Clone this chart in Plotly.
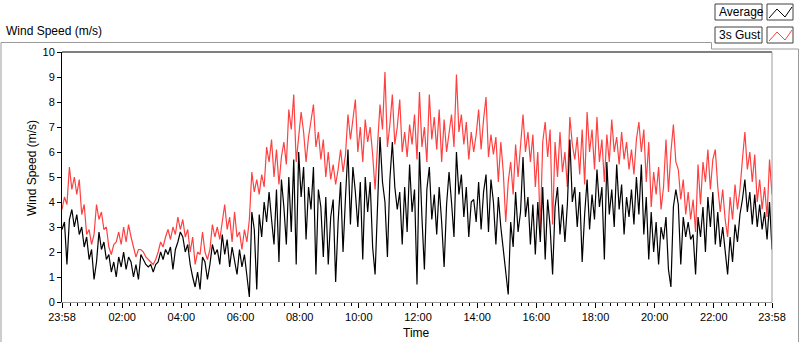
import plotly.graph_objects as go
from datetime import datetime, timedelta

# ---- data (5-minute samples, minutes after 23:58) ----
minutes = list(range(0, 1441, 5))

gust = [
    3.7, 4.2, 3.9, 5.4, 4.5, 5.0, 4.3, 4.9, 3.5, 3.9,
    2.7, 2.9, 2.3, 2.7, 3.9, 3.3, 3.6, 2.9, 3.0, 2.2,
    1.9, 2.3, 2.4, 2.8, 2.3, 3.0, 2.4, 3.1, 2.6, 2.2,
    1.8, 2.1, 2.1, 2.0, 1.8, 1.7, 1.6, 1.5, 1.7, 2.0,
    2.4, 2.2,
    2.6, 2.9, 2.5, 3.0, 2.7, 3.4, 2.9, 3.3, 2.6, 2.9,
    2.0, 2.6, 1.5, 2.0, 1.9, 2.8, 2.0, 1.7, 2.1, 3.1,
    2.6, 3.0, 2.5, 3.3, 3.9, 2.9, 3.4, 2.4, 3.6, 2.6,
    2.8, 2.1, 2.9, 2.4, 3.3, 5.2, 4.4, 4.9, 4.3, 5.1,
    4.6, 6.2,
    5.6, 6.5, 5.0, 6.1, 4.7, 5.8, 6.4, 5.5, 7.7, 6.9,
    8.3, 5.6, 6.5, 7.6, 6.8, 5.6, 6.6, 7.3, 7.9, 6.2,
    6.8, 5.7, 6.5, 5.0, 6.0, 4.9, 5.5, 4.7, 5.3, 6.1,
    5.2, 5.9, 7.5, 6.5, 7.2, 8.1, 6.0, 7.0, 5.6, 7.3,
    6.4,
    7.0, 5.9, 4.5, 6.3, 7.9, 6.9, 9.2, 6.2, 7.1, 8.3,
    6.3, 7.0, 8.1, 6.0, 6.8, 5.8, 7.1, 6.3, 7.5, 5.7,
    8.4, 6.2, 7.0, 5.6, 8.3, 6.5, 7.4, 6.1, 7.7, 5.6,
    7.3, 6.0, 6.7, 7.5, 6.2, 9.1, 6.8, 7.5, 6.3, 7.2,
    5.7, 6.8,
    6.0, 6.7, 7.7, 6.1, 7.3, 8.2, 5.8, 6.7, 5.9, 6.6,
    4.8, 6.4, 5.2, 3.2, 4.8, 5.6, 4.3, 6.3, 5.0, 6.1,
    7.5, 6.0, 6.8, 5.6, 6.7, 4.6, 6.0, 2.9, 6.4, 7.2,
    5.8, 6.9, 3.1, 6.4, 5.0, 6.8, 5.2, 6.0, 4.6, 7.4,
    6.3,
    5.7, 6.6, 5.1, 6.9, 4.7, 7.6, 6.0, 6.9, 5.3, 7.4,
    5.6, 6.5, 4.8, 6.7, 5.6, 7.3, 6.0, 6.6, 5.5, 6.8,
    5.7, 6.4, 5.3, 6.1, 5.1, 6.5, 7.2, 6.0, 6.9, 4.8,
    6.4, 3.8, 5.2, 4.3, 5.4, 3.7, 4.6, 6.5, 4.4, 6.0,
    7.1, 5.6,
    5.3, 4.1, 4.9, 3.5, 4.4, 3.3, 4.1, 2.8, 5.5, 3.9,
    5.6, 4.8, 6.1, 4.5, 5.7, 6.1, 4.6, 3.6, 4.5, 3.3,
    2.6, 4.2, 3.3, 4.7, 3.7, 4.5, 5.7, 6.8, 5.3, 6.0,
    4.8, 5.9, 4.0, 4.9, 3.7, 4.6, 3.4, 5.7, 4.3,
]

average = [
    2.9, 3.2, 1.5, 3.3, 3.7, 3.0, 3.5, 2.7, 3.0, 2.2,
    2.6, 1.7, 2.1, 0.9, 1.6, 2.8, 2.1, 2.4, 1.7, 1.9,
    1.2, 1.6, 1.0, 1.8, 1.4, 2.0, 1.3, 1.8, 1.6, 1.0,
    1.5, 0.9, 1.9, 1.7, 1.5, 1.4, 1.5, 1.2, 1.5, 1.6,
    2.0, 1.7,
    2.1, 1.9, 2.2, 1.3, 2.1, 2.4, 2.8, 2.6, 2.0, 2.3,
    1.5, 1.0, 0.6, 1.2, 0.5, 1.8, 1.6, 0.9, 1.5, 2.3,
    1.9, 2.1, 1.5, 2.7, 1.9, 2.5, 1.4, 2.2, 1.7, 1.1,
    2.1, 1.4, 1.9, 0.9, 0.2, 3.6, 2.9, 0.5, 3.5, 2.6,
    4.0, 3.2,
    4.4, 3.3, 2.3, 4.5, 1.6, 4.9, 3.8, 2.3, 5.0, 2.8,
    5.7, 1.5, 6.0, 4.2, 5.4, 2.5, 4.6, 3.7, 5.4, 1.1,
    4.5, 3.8, 1.8, 4.2, 1.5, 3.4, 4.1, 0.8, 3.2, 4.8,
    2.0, 4.2, 6.1, 3.1, 5.4, 4.4, 3.0, 4.8, 1.7, 5.0,
    3.6,
    4.8, 2.2, 1.1, 4.3, 6.6, 4.8, 4.0, 1.8, 4.9, 6.4,
    4.6, 3.7, 4.4, 2.3, 4.6, 2.8, 5.5, 3.6, 4.5, 0.7,
    6.0, 3.4, 1.3, 4.5, 5.4, 3.3, 4.3, 2.7, 4.6, 3.2,
    1.4, 3.9, 5.2, 4.0, 2.6, 6.0, 4.3, 5.1, 3.4, 4.6,
    2.6, 4.0,
    4.1, 3.2, 4.8, 2.9, 4.4, 5.1, 2.8, 4.9, 4.0, 2.3,
    4.2, 3.0, 2.1, 1.1, 0.3, 3.2, 2.2, 4.4, 2.8, 3.6,
    5.8, 3.4, 4.2, 2.3, 3.9, 1.9, 4.0, 2.4, 4.6, 1.7,
    4.1, 3.0, 1.1, 3.8, 4.6, 2.7, 3.9, 2.4, 3.9, 6.5,
    4.0,
    4.6, 3.0, 4.4, 1.6, 3.5, 4.9, 2.9, 4.3, 3.3, 5.3,
    3.8, 4.6, 1.7, 5.6, 3.5, 4.5, 3.0, 5.5, 3.7, 4.7,
    2.7, 4.2, 3.4, 4.5, 3.1, 5.0, 3.5, 5.5, 2.7, 4.2,
    1.7, 3.6, 2.0, 3.2, 1.5, 3.0, 2.5, 3.4, 1.3, 0.6,
    3.8, 4.5,
    3.9, 1.5, 3.4, 2.6, 3.2, 2.5, 2.7, 1.1, 3.4, 2.6,
    3.8, 2.0, 4.2, 3.0, 4.4, 2.3, 3.6, 2.2, 3.0, 2.0,
    1.1, 2.6, 1.6, 3.1, 2.4, 3.5, 4.1, 4.9, 3.6, 4.4,
    3.1, 4.3, 3.0, 3.9, 2.9, 3.6, 2.5, 4.0, 2.1,
]

tick_labels = ["23:58", "02:00", "04:00", "06:00", "08:00", "10:00", "12:00",
               "14:00", "16:00", "18:00", "20:00", "22:00", "23:58"]
tick_minutes = [0, 122, 242, 362, 482, 602, 722, 842, 962, 1082, 1202, 1322, 1440]

assert len(gust) == len(minutes) and len(average) == len(minutes)

start = datetime(2023, 1, 1, 23, 58)
times = [start + timedelta(minutes=m) for m in minutes]
tick_vals = [start + timedelta(minutes=m) for m in tick_minutes]

# ---- layout geometry (pixels) ----
W, H = 800, 342
L, R, T, B = 62, 772, 52, 302
FONT = "Liberation Sans"


def px(x):
    return (x - L) / (R - L)


def py(y):
    return (B - y) / (B - T)


fig = go.Figure()
fig.add_trace(go.Scatter(x=times, y=gust, mode="lines", name="3s Gust",
                         line=dict(color="#ff4040", width=1.2)))
fig.add_trace(go.Scatter(x=times, y=average, mode="lines", name="Average",
                         line=dict(color="#000000", width=1.2)))

shapes = []
# outer grey panel frame with legend notch
shapes.append(dict(type="path", xref="paper", yref="paper",
                   path=f"M {px(1)},{py(342)} L {px(1)},{py(42.5)} L {px(711.5)},{py(42.5)} "
                        f"L {px(711.5)},{py(49)} L {px(798.5)},{py(49)} L {px(798.5)},{py(342)}",
                   line=dict(color="#9a9a9a", width=1)))
# plot frame: top black, right grey
shapes.append(dict(type="line", xref="paper", yref="paper", x0=0, x1=1, y0=1, y1=1,
                   line=dict(color="#000000", width=1)))
shapes.append(dict(type="line", xref="paper", yref="paper", x0=1, x1=1, y0=0, y1=1,
                   line=dict(color="#9a9a9a", width=1)))
# legend boxes
for (y0, y1, col) in [(4, 20, "#000000"), (27, 43, "#ff4040")]:
    shapes.append(dict(type="rect", xref="paper", yref="paper",
                       x0=px(715), x1=px(762), y0=py(y1), y1=py(y0),
                       line=dict(color="#404040", width=1), fillcolor="white"))
    shapes.append(dict(type="rect", xref="paper", yref="paper",
                       x0=px(767), x1=px(793), y0=py(y1), y1=py(y0),
                       line=dict(color="#404040", width=1), fillcolor="white"))
    shapes.append(dict(type="path", xref="paper", yref="paper",
                       path=f"M {px(769)},{py(y0 + 14)} L {px(777)},{py(y0 + 5)} "
                            f"L {px(785)},{py(y0 + 13)} L {px(792)},{py(y0 + 3)}",
                       line=dict(color=col, width=1)))

annotations = [
    dict(text="Wind Speed (m/s)", x=px(4), y=py(31), xref="paper", yref="paper",
         xanchor="left", yanchor="middle", showarrow=False,
         font=dict(family=FONT, size=12, color="#000")),
    dict(text="Wind Speed (m/s)", x=px(32), y=py(168), xref="paper", yref="paper",
         xanchor="center", yanchor="middle", textangle=-90, showarrow=False,
         font=dict(family=FONT, size=12, color="#000")),
    dict(text="Time", x=px(416), y=py(333), xref="paper", yref="paper",
         xanchor="center", yanchor="middle", showarrow=False,
         font=dict(family=FONT, size=12, color="#000")),
    dict(text="Average", x=px(717), y=py(12), xref="paper", yref="paper",
         xanchor="left", yanchor="middle", showarrow=False,
         font=dict(family=FONT, size=12, color="#000")),
    dict(text="3s Gust", x=px(717), y=py(35), xref="paper", yref="paper",
         xanchor="left", yanchor="middle", showarrow=False,
         font=dict(family=FONT, size=12, color="#000")),
]

fig.update_layout(
    width=W, height=H, autosize=False,
    margin=dict(l=L, r=W - R, t=T, b=H - B, pad=0),
    paper_bgcolor="white", plot_bgcolor="white",
    showlegend=False,
    font=dict(family=FONT, size=11, color="#000"),
    shapes=shapes, annotations=annotations,
    xaxis=dict(
        range=[tick_vals[0], tick_vals[-1]],
        tickmode="array", tickvals=tick_vals, ticktext=tick_labels,
        ticks="outside", ticklen=5, tickcolor="#000", tickwidth=1,
        showgrid=False, zeroline=False,
        showline=True, linecolor="#9a9a9a", linewidth=1,
        tickfont=dict(family=FONT, size=11, color="#000"),
        minor=dict(dtick=15 * 60 * 1000, tick0="2023-01-02 00:00",
                   ticks="outside", ticklen=3, tickcolor="#000", showgrid=False),
    ),
    yaxis=dict(
        range=[0, 10], tickmode="linear", tick0=0, dtick=1,
        ticks="outside", ticklen=4, tickcolor="#000",
        showgrid=False, zeroline=False,
        showline=True, linecolor="#000", linewidth=1,
        tickfont=dict(family=FONT, size=11, color="#000"),
    ),
)

fig.write_html("out.html", config={"displayModeBar": False},
               post_script="document.body.style.margin='0px';document.body.style.overflow='hidden';")
